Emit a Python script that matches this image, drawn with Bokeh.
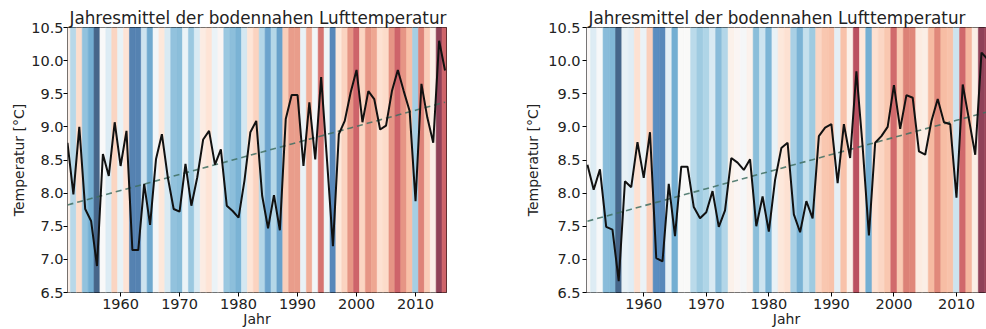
import numpy as np
from bokeh.plotting import figure
from bokeh.layouts import row
from bokeh.models import FixedTicker, NumeralTickFormatter, Range1d, ColumnDataSource
from bokeh.transform import linear_cmap
from bokeh.embed import file_html
from bokeh.resources import INLINE

# ---------------- data ----------------
years = list(range(1951, 2016))

temp_left = [8.76, 7.98, 9.00, 7.76, 7.58, 6.90, 8.59, 8.26, 9.07, 8.41,
             8.94, 7.14, 7.14, 8.14, 7.52, 8.51, 8.89, 8.24, 7.76, 7.72,
             8.44, 7.81, 8.24, 8.81, 8.94, 8.43, 8.66, 7.81, 7.73, 7.63,
             8.19, 8.92, 9.09, 7.96, 7.47, 7.97, 7.44, 9.12, 9.48, 9.48,
             8.41, 9.37, 8.51, 9.75, 8.49, 7.20, 8.89, 9.09, 9.52, 9.86,
             9.07, 9.54, 9.42, 8.96, 9.02, 9.54, 9.86, 9.54, 9.24, 7.88,
             9.65, 9.14, 8.76, 10.30, 9.85]

temp_right = [8.43, 8.05, 8.36, 7.49, 7.45, 6.67, 8.18, 8.09, 8.77, 8.23,
              8.92, 7.02, 6.97, 8.14, 7.35, 8.40, 8.40, 7.79, 7.62, 7.71,
              8.03, 7.49, 7.74, 8.53, 8.46, 8.35, 8.51, 7.50, 7.95, 7.42,
              8.20, 8.68, 8.76, 7.68, 7.41, 7.88, 7.62, 8.86, 8.99, 9.04,
              8.15, 9.04, 8.53, 9.84, 8.70, 7.36, 8.76, 8.86, 9.00, 9.63,
              8.97, 9.48, 9.44, 8.63, 8.58, 9.09, 9.42, 9.07, 9.04, 7.93,
              9.64, 9.11, 8.58, 10.12, 10.02]

title_text = "Jahresmittel der bodennahen Lufttemperatur"
x_label = "Jahr"
y_label = "Temperatur [°C]"
x_ticks = [1960, 1970, 1980, 1990, 2000, 2010]
y_ticks = [6.5, 7.0, 7.5, 8.0, 8.5, 9.0, 9.5, 10.0, 10.5]

# ---------------- colours ----------------
RDBU_R = ["#053061", "#2166ac", "#4393c3", "#92c5de", "#d1e5f0", "#f7f7f7",
          "#fddbc7", "#f4a582", "#d6604d", "#b2182b", "#67001f"]


def hex2rgb(h):
    return np.array([int(h[i:i + 2], 16) for i in (1, 3, 5)], dtype=float)


def make_palette(colors, n=256, alpha=0.74):
    pts = np.array([hex2rgb(c) for c in colors])
    pos = np.linspace(0, 1, len(colors))
    out = []
    for t in np.linspace(0, 1, n):
        rgb = np.array([np.interp(t, pos, pts[:, k]) for k in range(3)])
        rgb = alpha * rgb + (1 - alpha) * 255.0
        out.append("#%02x%02x%02x" % tuple(int(round(v)) for v in rgb))
    return out


PALETTE = make_palette(RDBU_R)
FONT = "DejaVu Sans"
TXT = "#222222"


def make_fig(temps, x_start, x_end, width, border_left, border_right,
             tick_standoff, label_standoff):
    p = figure(width=width, height=329, output_backend="svg", toolbar_location=None,
               x_range=Range1d(x_start, x_end), y_range=Range1d(6.5, 10.5),
               min_border_left=border_left, min_border_right=border_right,
               min_border_top=27, min_border_bottom=0,
               title=title_text)
    src = ColumnDataSource(dict(year=years, temp=temps))
    cmap = linear_cmap("temp", PALETTE, low=min(temps), high=max(temps))
    p.vbar(x="year", width=1.0, bottom=6.0, top=11.0, source=src,
           fill_color=cmap, line_color=cmap, line_width=0.6)

    xs = np.array(years, dtype=float)
    k, d = np.polyfit(xs, np.array(temps), 1)
    p.line(years, list(k * xs + d), line_color="#3f6e62", line_alpha=0.85,
           line_width=1.6, line_dash="6 4")
    p.line("year", "temp", source=src, line_color="#111111", line_width=2)

    p.grid.visible = False
    p.outline_line_color = "black"
    p.outline_line_width = 1
    p.outline_line_alpha = 1

    p.title.text_font = FONT
    p.title.text_font_size = "16.8px"
    p.title.text_font_style = "normal"
    p.title.text_color = TXT
    p.title.align = "left"
    p.title.standoff = 0
    p.title.offset = 2

    p.xaxis.ticker = FixedTicker(ticks=x_ticks)
    p.yaxis.ticker = FixedTicker(ticks=y_ticks)
    p.yaxis.formatter = NumeralTickFormatter(format="0.0")
    p.xaxis.axis_label = x_label
    p.yaxis.axis_label = y_label
    for ax in (p.xaxis, p.yaxis):
        ax.axis_line_color = None
        ax.major_tick_line_color = "black"
        ax.major_tick_out = 4
        ax.major_tick_in = 0
        ax.minor_tick_line_color = None
        ax.major_label_text_font = FONT
        ax.major_label_text_font_size = "14.5px"
        ax.major_label_text_color = TXT
        ax.axis_label_text_font = FONT
        ax.axis_label_text_font_size = "14px"
        ax.axis_label_text_font_style = "normal"
        ax.axis_label_text_color = TXT
    p.xaxis.major_label_standoff = 2
    p.xaxis.axis_label_standoff = -1
    p.yaxis.major_label_standoff = tick_standoff
    p.yaxis.axis_label_standoff = label_standoff
    p.background_fill_color = "white"
    p.border_fill_color = "white"
    return p


p1 = make_fig(temp_left, 1951.0, 2015.25, 520, 67, 74, 0, 1)
p2 = make_fig(temp_right, 1950.85, 2014.8, 466, 66, 0, 2, 4)

layout = row(p1, p2)
open("out.html", "w").write(file_html(layout, INLINE))
